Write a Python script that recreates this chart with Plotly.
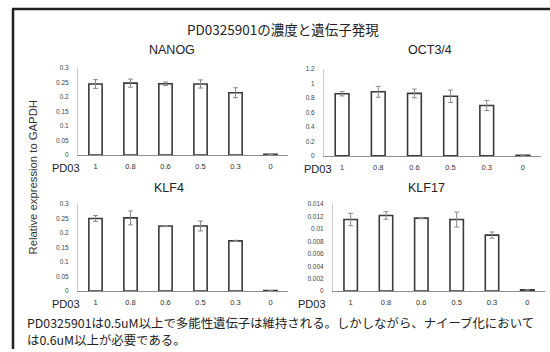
import plotly.graph_objects as go

W, H = 550, 352

concentrations = ["1", "0.8", "0.6", "0.5", "0.3", "0"]

nanog = [0.244, 0.247, 0.245, 0.244, 0.214, 0.002]
nanog_err = [0.015, 0.014, 0.006, 0.014, 0.017, 0.0]

oct34 = [0.855, 0.882, 0.86, 0.82, 0.694, 0.01]
oct34_err = [0.03, 0.075, 0.06, 0.085, 0.07, 0.0]

klf4 = [0.250, 0.252, 0.224, 0.224, 0.173, 0.002]
klf4_err = [0.010, 0.024, 0.002, 0.017, 0.002, 0.0]

klf17 = [0.0115, 0.01215, 0.01173, 0.0115, 0.0090, 0.0002]
klf17_err = [0.0010, 0.0006, 0.0001, 0.0012, 0.0005, 0.0]

# name, values, errors, ymax, dtick, x0px, x1px, ybot px, ytop px, title x, title y, PD03 x
panels = [
    ("NANOG", nanog, nanog_err, 0.3, 0.05, 78, 288, 154, 65, 172, 47, 66),
    ("OCT3/4", oct34, oct34_err, 1.2, 0.2, 324, 541, 155, 66, 430, 47, 318),
    ("KLF4", klf4, klf4_err, 0.3, 0.05, 78, 288, 293, 204, 169, 188, 66),
    ("KLF17", klf17, klf17_err, 0.014, 0.002, 333, 545, 293, 204, 426, 188, 312),
]

fig = go.Figure()
layout_axes = {}
annotations = []

for i, (name, vals, errs, ymax, dt, x0, x1, yb, yt, tx, ty, px) in enumerate(panels):
    n = i + 1
    xa = "x" if n == 1 else f"x{n}"
    ya = "y" if n == 1 else f"y{n}"
    fig.add_trace(go.Bar(
        x=concentrations, y=vals, xaxis=xa, yaxis=ya,
        marker=dict(color="white", line=dict(color="#3a3a3a", width=1.6)),
        error_y=dict(type="data", array=errs, color="#8a8a8a", thickness=1, width=2.5),
        width=0.38, showlegend=False, hoverinfo="skip",
    ))
    xkey = "xaxis" if n == 1 else f"xaxis{n}"
    ykey = "yaxis" if n == 1 else f"yaxis{n}"
    layout_axes[xkey] = dict(
        domain=[x0 / W, x1 / W], anchor=ya, type="category",
        range=[-0.5, 5.5], showline=True, linecolor="#8c8c8c", linewidth=1.2,
        showgrid=False, zeroline=False, ticks="outside", ticklen=4,
        tickcolor="rgba(0,0,0,0)", tickfont=dict(size=7.5, color="#333", family="Liberation Sans"),
        fixedrange=True,
    )
    layout_axes[ykey] = dict(
        domain=[1 - yb / H, 1 - yt / H], anchor=xa, range=[0, ymax],
        dtick=dt, showline=True, linecolor="#c8c8c8", linewidth=1,
        showgrid=False, zeroline=False, ticks="outside", ticklen=7,
        tickcolor="rgba(0,0,0,0)", tickfont=dict(size=6.5, color="#444", family="Liberation Sans"),
        fixedrange=True,
    )
    annotations.append(dict(
        text=name, x=tx / W, y=1 - ty / H,
        xref="paper", yref="paper", showarrow=False, xanchor="center", yanchor="middle",
        font=dict(size=12.5, color="#222", family="Liberation Sans"),
    ))
    annotations.append(dict(
        text="PD03", x=px / W, y=1 - (yb + 13) / H,
        xref="paper", yref="paper", showarrow=False, xanchor="center", yanchor="middle",
        font=dict(size=11, color="#222", family="Liberation Sans"),
    ))

annotations.append(dict(
    text="PD0325901の濃度と遺伝子発現", x=283 / W, y=1 - 25 / H,
    xref="paper", yref="paper", showarrow=False, xanchor="center", yanchor="middle",
    font=dict(size=13.5, color="#222", family="Noto Sans CJK JP"),
))
annotations.append(dict(
    text="Relative expression to GAPDH", x=33 / W, y=1 - 177 / H, textangle=-90,
    xref="paper", yref="paper", showarrow=False, xanchor="center", yanchor="middle",
    font=dict(size=11.3, color="#333", family="Liberation Sans"),
))
notes = [
    "PD0325901は0.5uM以上で多能性遺伝子は維持される。しかしながら、ナイーブ化において",
    "は0.6uM以上が必要である。",
]
note_y = [325, 343]
for line, ly in zip(notes, note_y):
    annotations.append(dict(
        text=line, x=25 / W, y=1 - ly / H, align="left",
        xref="paper", yref="paper", showarrow=False, xanchor="left", yanchor="middle",
        font=dict(size=12.4, color="#222", family="Noto Sans CJK JP"),
    ))

shapes = [
    dict(type="line", xref="paper", yref="paper", x0=13 / W, x1=13 / W, y0=0, y1=1 - 5 / H,
         line=dict(color="#222", width=2.5)),
    dict(type="line", xref="paper", yref="paper", x0=12 / W, x1=1, y0=1 - 5 / H, y1=1 - 5 / H,
         line=dict(color="#222", width=2.5)),
]

fig.update_layout(
    width=W, height=H, margin=dict(l=0, r=0, t=0, b=0),
    paper_bgcolor="white", plot_bgcolor="white",
    annotations=annotations, shapes=shapes, bargap=0.6,
    **layout_axes,
)

fig.write_html(
    "out.html",
    config={"displayModeBar": False},
    post_script="document.body.style.margin='0';document.body.style.overflow='hidden';",
)
